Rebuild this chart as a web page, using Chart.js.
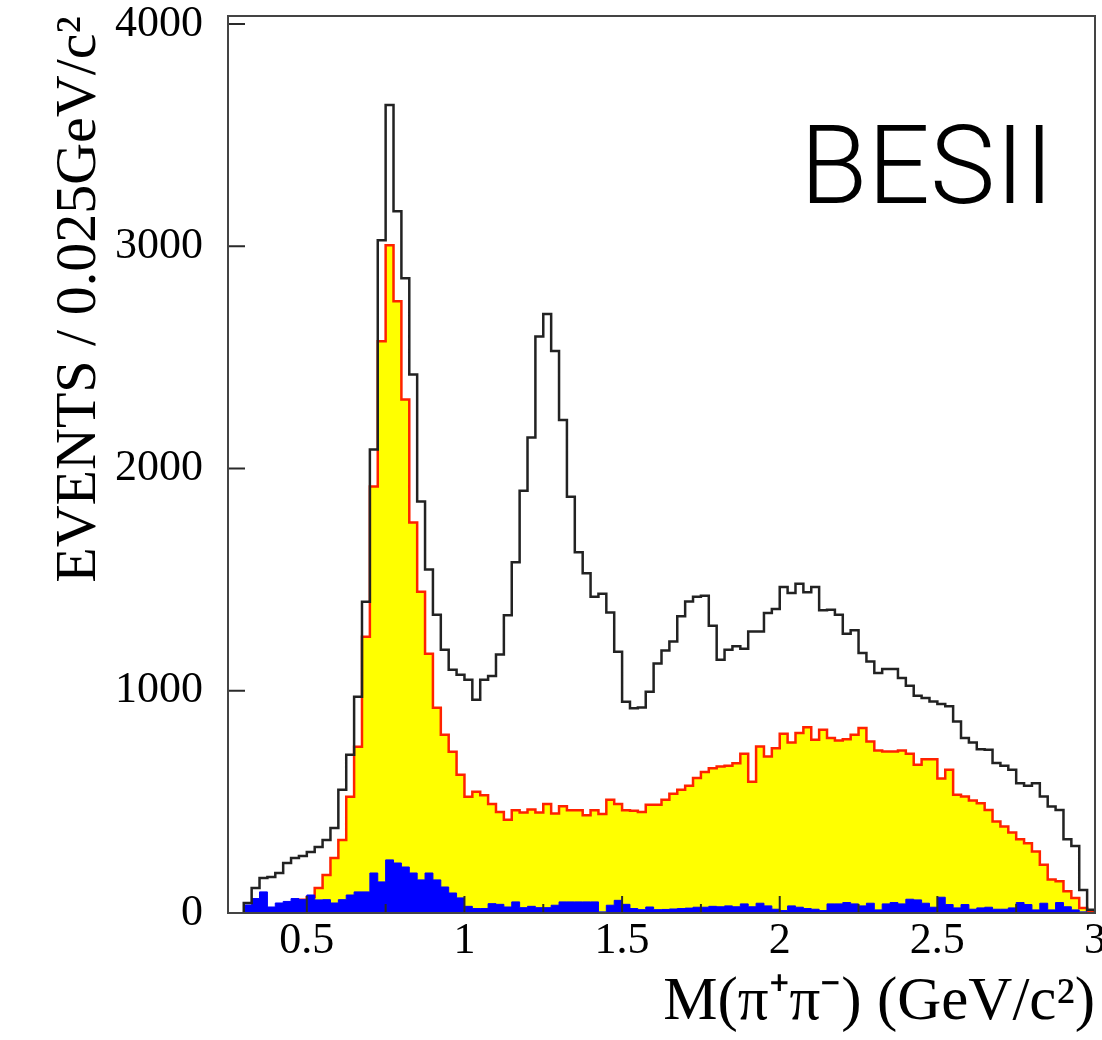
<!DOCTYPE html>
<html>
<head>
<meta charset="utf-8">
<script src="https://cdn.jsdelivr.net/npm/chart.js@4.4.1/dist/chart.umd.min.js"></script>
<style>
  html, body { margin: 0; padding: 0; background: #fff; }
  #wrap { width: 1102px; height: 1040px; }
</style>
</head>
<body>
<div id="wrap"><canvas id="massChart" width="1102" height="1040"></canvas></div>
<script>
// ========== DATA ==========
// M(pi+pi-) histogram, 0.025 GeV bins from 0.25 to 3.0
const binStart = 0.25;
const binWidth = 0.025;
const binCount = 110;

// total events (black outline)
const totalEvents = [
  0, 0, 45, 113, 158, 162, 180, 225, 248, 257,
  275, 297, 329, 383, 554, 712, 973, 1401, 2086, 3027,
  3635, 3158, 2856, 2423, 1851, 1545, 1342, 1185, 1095, 1072,
  1050, 960, 1049, 1066, 1163, 1340, 1578, 1900, 2140, 2594,
  2695, 2529, 2218, 1873, 1623, 1529, 1423, 1437, 1352, 1176,
  951, 921, 925, 996, 1123, 1181, 1222, 1335, 1402, 1423,
  1428, 1292, 1140, 1185, 1200, 1189, 1267, 1267, 1350, 1368,
  1467, 1440, 1482, 1443, 1467, 1362, 1365, 1342, 1257, 1272,
  1170, 1132, 1080, 1098, 1098, 1057, 1022, 978, 967, 952,
  940, 930, 862, 787, 767, 737, 735, 675, 662, 644,
  584, 572, 584, 524, 479, 464, 332, 302, 104, 15
];

// yellow component (red outline)
const yellowEvents = [
  0, 0, 0, 0, 0, 0, 0, 0, 0, 60,
  72, 113, 171, 248, 329, 523, 748, 1243, 1919, 2572,
  3005, 2752, 2311, 1757, 1446, 1167, 923, 802, 725, 622,
  523, 545, 530, 490, 455, 420, 462, 452, 466, 452,
  490, 448, 480, 462, 462, 440, 462, 445, 510, 490,
  462, 460, 455, 487, 487, 510, 537, 554, 572, 607,
  634, 651, 659, 662, 674, 716, 591, 749, 704, 741,
  806, 767, 810, 836, 779, 825, 787, 776, 782, 802,
  832, 772, 731, 727, 727, 731, 716, 667, 692, 692,
  605, 644, 532, 524, 506, 494, 464, 412, 389, 362,
  332, 314, 277, 217, 151, 143, 98, 68, 23, 5
];

// blue component (background)
const blueEvents = [
  0, 0, 36, 65, 95, 27, 45, 52, 65, 60,
  81, 59, 60, 45, 60, 81, 95, 95, 180, 140,
  239, 225, 207, 180, 149, 180, 149, 117, 90, 68,
  30, 20, 20, 42, 39, 27, 50, 24, 30, 24,
  24, 35, 50, 50, 50, 50, 50, 5, 35, 57,
  39, 20, 15, 27, 15, 16, 18, 20, 22, 26,
  26, 30, 28, 32, 28, 41, 28, 44, 32, 17,
  11, 32, 26, 20, 17, 11, 41, 41, 47, 41,
  32, 44, 14, 41, 47, 41, 62, 59, 44, 26,
  71, 38, 23, 38, 17, 23, 26, 17, 17, 23,
  47, 38, 14, 44, 14, 47, 28, 14, 5, 0
];

const xTickLabels = ['0.5', '1', '1.5', '2', '2.5', '3'];
const yTickLabels = ['0', '1000', '2000', '3000', '4000'];

// bin edges (categories)
const binEdges = Array.from({ length: binCount + 1 }, (_, i) => +(binStart + binWidth * i).toFixed(3));

// histogram -> step points (value of point i holds until edge i+1)
function toSteps(values) {
    const first = values.findIndex(v => v > 0);
    const pts = [{ x: binEdges[first], y: 0 }];
    for (let i = first; i < values.length; i++) pts.push({ x: binEdges[i], y: values[i] });
    pts.push({ x: binEdges[values.length], y: 0 });
    return pts;
}

// ========== PLUGINS ==========
// ROOT-style frame, inside ticks, y labels and the experiment tag
const frameTicks = {
    id: 'frameTicks',
    afterDatasetsDraw(chart) {
        const { ctx, chartArea: a, scales: { x, y } } = chart;
        ctx.save();
        ctx.strokeStyle = '#2a2a2a';
        ctx.lineWidth = 2;
        ctx.beginPath();
        x.ticks.forEach(t => {
            const px = x.getPixelForValue(t.value);
            const major = xTickLabels.includes(String(t.value));
            ctx.moveTo(px, a.bottom);
            ctx.lineTo(px, a.bottom - (major ? 17 : 9));
        });
        yTickLabels.forEach(lbl => {
            const py = y.getPixelForValue(Number(lbl));
            ctx.moveTo(a.left, py);
            ctx.lineTo(a.left + 17, py);
        });
        ctx.stroke();
        ctx.strokeStyle = '#444';
        ctx.strokeRect(a.left, a.top, a.right - a.left, a.bottom - a.top);

        ctx.fillStyle = '#000';
        ctx.font = "44px 'Liberation Serif'";
        ctx.textAlign = 'right';
        ctx.textBaseline = 'middle';
        yTickLabels.forEach(lbl => {
            ctx.fillText(lbl, a.left - 25, y.getPixelForValue(Number(lbl)));
        });

        ctx.font = '300 110px Roboto';
        ctx.textAlign = 'left';
        ctx.textBaseline = 'alphabetic';
        ctx.fillText('BESII', a.left + 572, a.top + 187);
        ctx.restore();
    }
};

// ========== CHART ==========
Chart.defaults.font.family = "'Liberation Serif', 'Times New Roman', serif";
Chart.defaults.color = '#000';

const ctx = document.getElementById('massChart').getContext('2d');
const massChart = new Chart(ctx, {
    type: 'line',
    data: {
        datasets: [
            {
                label: 'Data',
                data: toSteps(totalEvents),
                stepped: 'before',
                borderColor: '#222',
                borderWidth: 2.5,
                fill: false,
                pointRadius: 0
            },
            {
                label: 'Background',
                data: toSteps(blueEvents),
                stepped: 'before',
                borderColor: '#0000ff',
                borderWidth: 1,
                backgroundColor: '#0000ff',
                fill: 'origin',
                pointRadius: 0
            },
            {
                label: 'Signal',
                data: toSteps(yellowEvents),
                stepped: 'before',
                borderColor: '#ff2200',
                borderWidth: 2.5,
                backgroundColor: '#ffff00',
                fill: 'origin',
                pointRadius: 0
            }
        ]
    },
    options: {
        responsive: false,
        animation: false,
        layout: { padding: { top: 16, right: 7, bottom: 0, left: 0 } },
        plugins: { legend: { display: false }, tooltip: { enabled: false } },
        scales: {
            x: {
                type: 'linear',
                bounds: 'data',
                min: 0.25,
                max: 3.0,
                grid: { display: false, drawTicks: false },
                border: { display: false },
                ticks: {
                    stepSize: 0.25,
                    padding: 2,
                    maxRotation: 0,
                    autoSkip: false,
                    font: { size: 44 },
                    callback: (v) => xTickLabels.includes(String(v)) ? String(v) : ''
                },
                title: {
                    display: true,
                    text: 'M(π⁺π⁻) (GeV/c²)',
                    align: 'end',
                    font: { size: 61 },
                    padding: { top: 0, bottom: 0 }
                },
                afterFit(s) { s.height = 127; s.paddingLeft = 0; s.paddingRight = 0; }
            },
            y: {
                type: 'linear',
                bounds: 'data',
                min: 0,
                max: 4036,
                grid: { display: false, drawTicks: false },
                border: { display: false },
                ticks: { display: false },
                title: {
                    display: true,
                    text: 'EVENTS / 0.025GeV/c²',
                    align: 'end',
                    font: { size: 58 },
                    padding: { top: 45, bottom: 0 }
                },
                afterFit(s) { s.width = 228; s.paddingTop = 0; s.paddingBottom = 0; }
            }
        }
    },
    plugins: [frameTicks]
});
</script>
</body>
</html>
